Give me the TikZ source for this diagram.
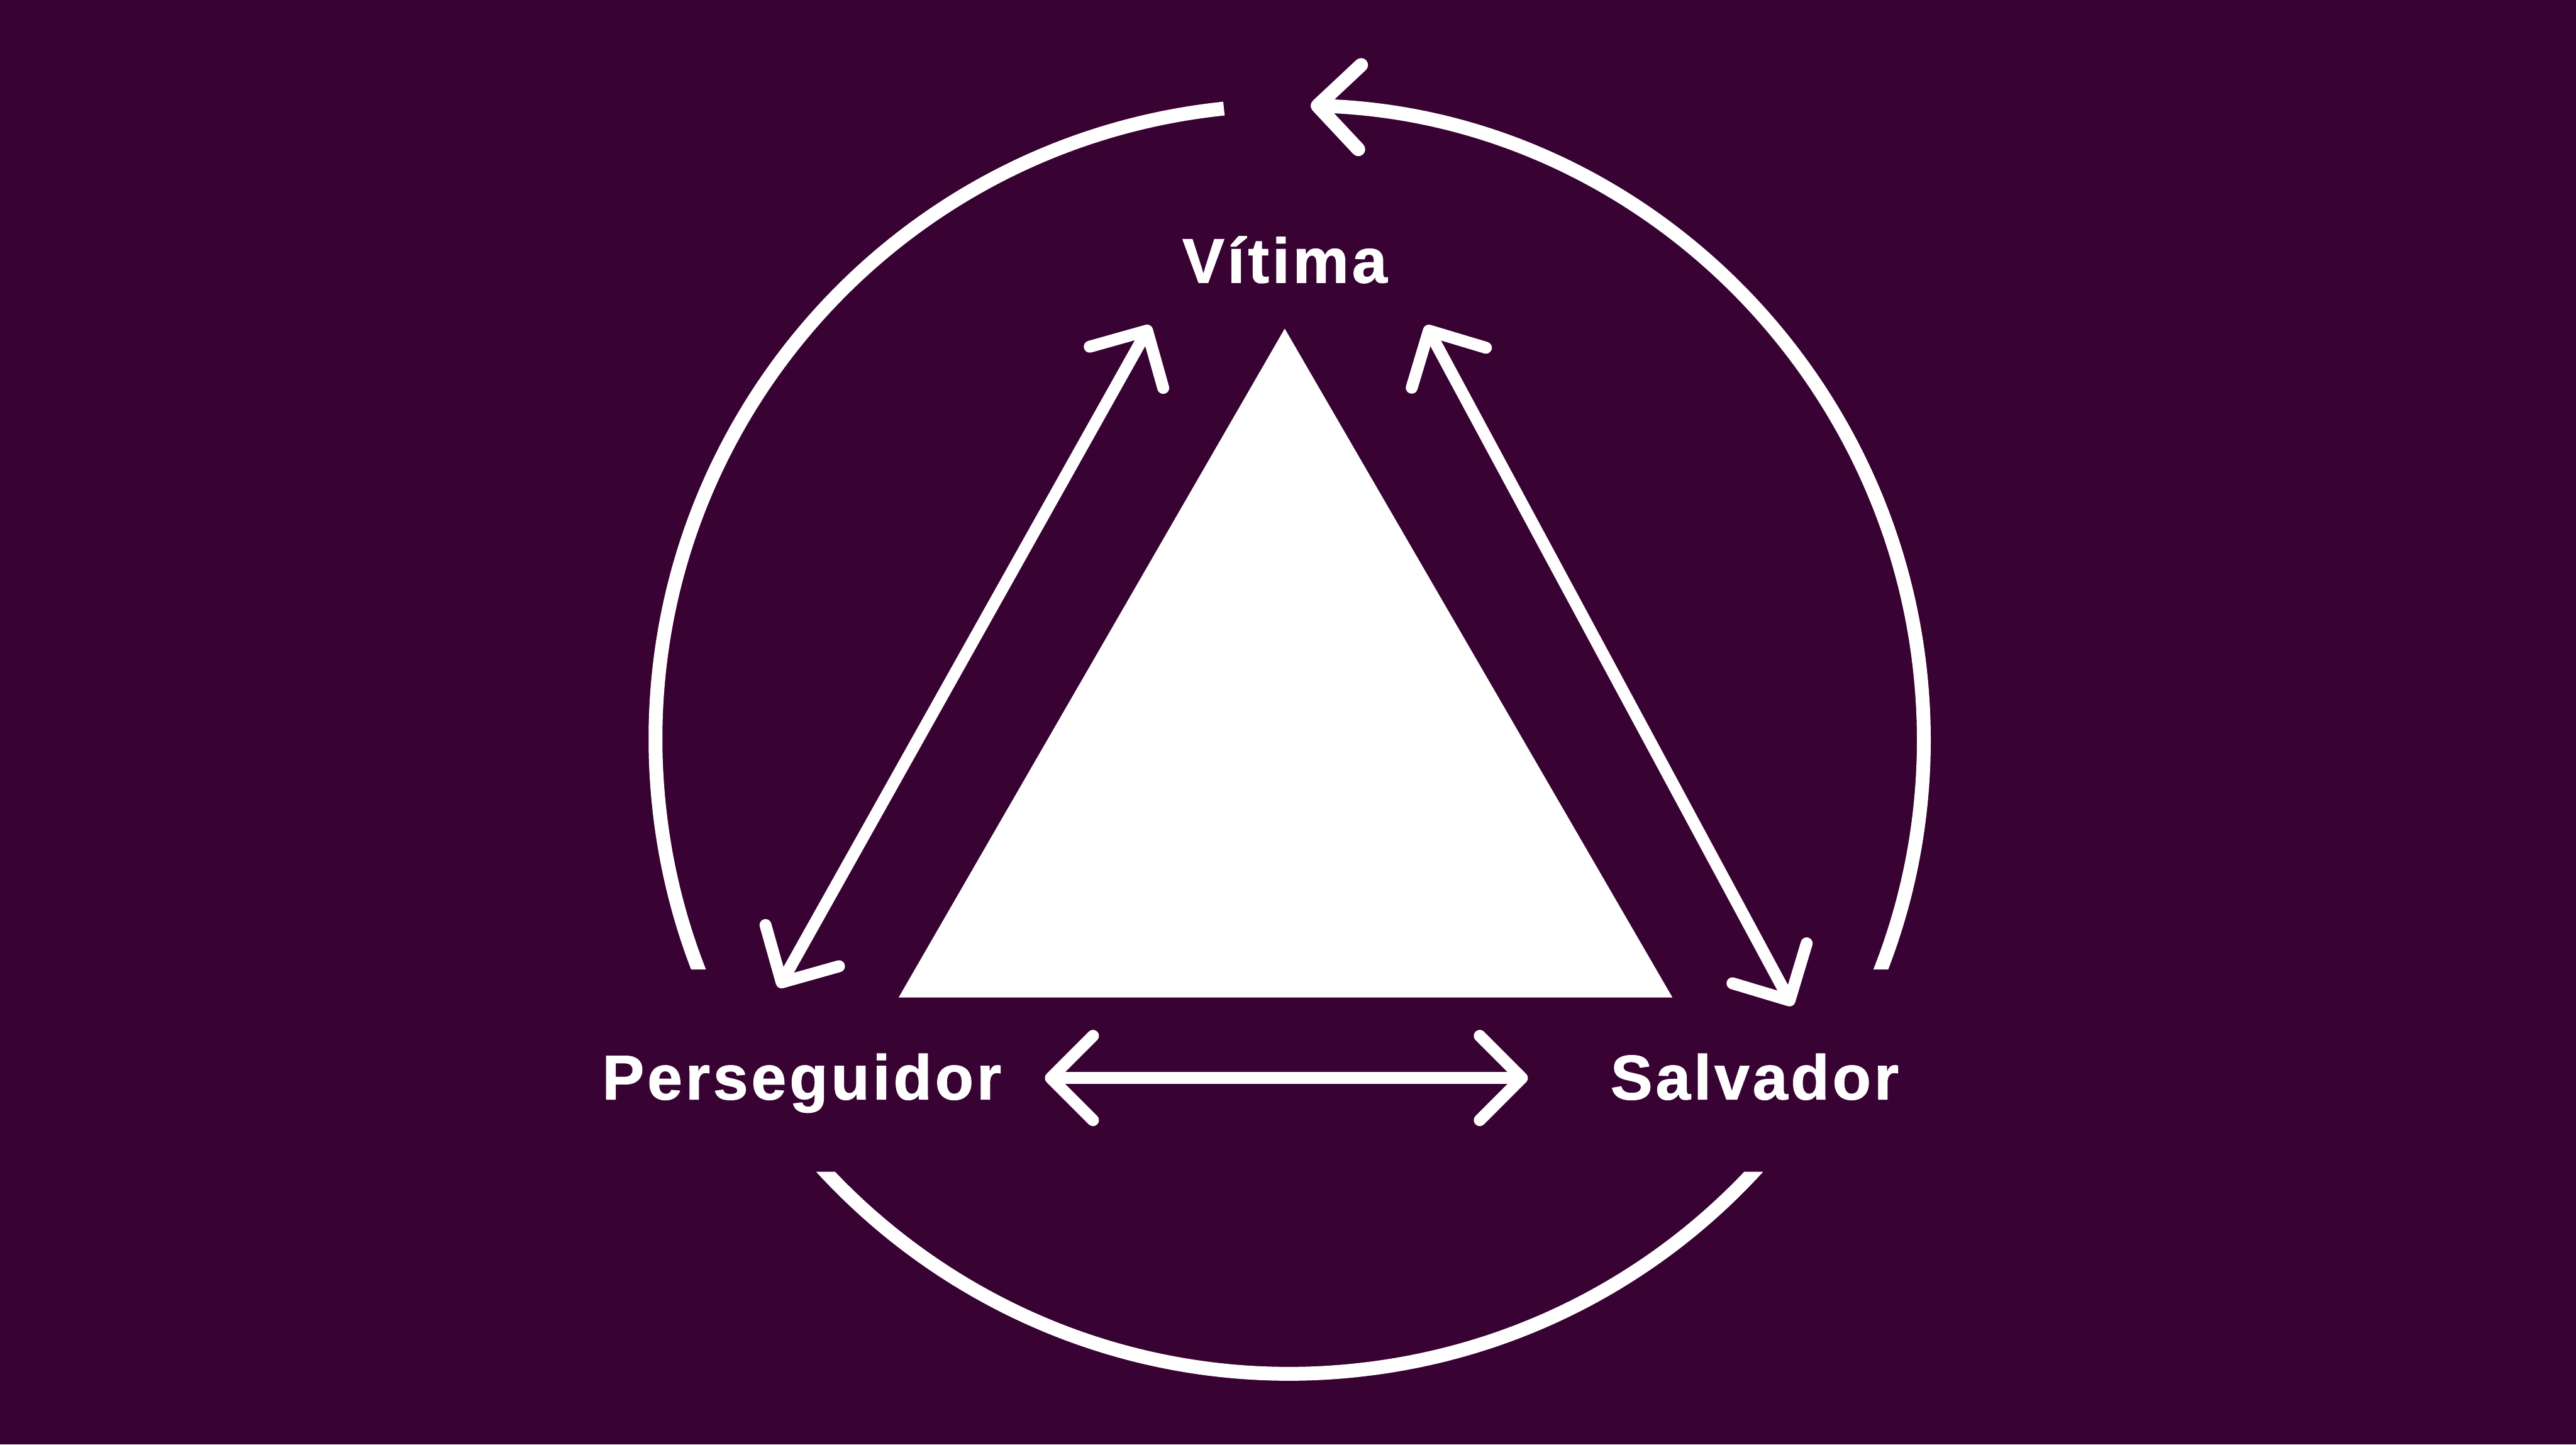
\documentclass[tikz,border=0pt]{standalone}
\usepackage{fontspec}
\usetikzlibrary{arrows.meta}
\newfontfamily\rolefont[LetterSpace=5, FakeBold=1.2]{Liberation Sans}
\definecolor{bgplum}{HTML}{380233}
\tikzset{
  ring/.style={white, line width=2.2mm},
  barb/.tip={Straight Barb[length=6.7mm, width=13.4mm, line cap=round, line join=round]},
  link/.style={white, line width=1.9mm, arrows={barb-barb}},
  role/.style={text=white, anchor=base, inner sep=0pt, font=\rolefont\bfseries\fontsize{28.5}{34}\selectfont},
}
\begin{document}
\begin{tikzpicture}[x=0.26122mm, y=0.26122mm]
    \fill[bgplum] (0,0) rectangle (1568,879);

    \coordinate (O) at (785,429);
    \coordinate (V) at (782,679);
    \coordinate (P) at (547,272);
    \coordinate (S) at (1018,272);

    \fill[white] (V) -- (P) -- (S) -- cycle;

    \node[role] (vitima) at (782,707) {Vítima};
    \node[role] (perseguidor) at (488,210) {Perseguidor};
    \node[role] (salvador) at (1068,210) {Salvador};

    % ends of the links along the sides
    \coordinate (VP1) at (700,681);
    \coordinate (VP2) at (474,278);
    \coordinate (VS1) at (868,681);
    \coordinate (VS2) at (1091,267);
    \coordinate (PS1) at (636,223);
    \coordinate (PS2) at (930,223);

    \draw[link] (VP1) -- (VP2);
    \draw[link] (VS1) -- (VS2);
    \draw[link] (PS1) -- (PS2);

    % the cycle round the triangle, cut open beside the labels
    \begin{scope}
        \clip (0,0) rectangle (1568,166) (0,289) rectangle (1568,879);
        \draw[ring, -barb] ([shift={(95.95:386)}]O) arc[start angle=95.95, end angle=448.1, radius=386];
    \end{scope}
\end{tikzpicture}
\end{document}
